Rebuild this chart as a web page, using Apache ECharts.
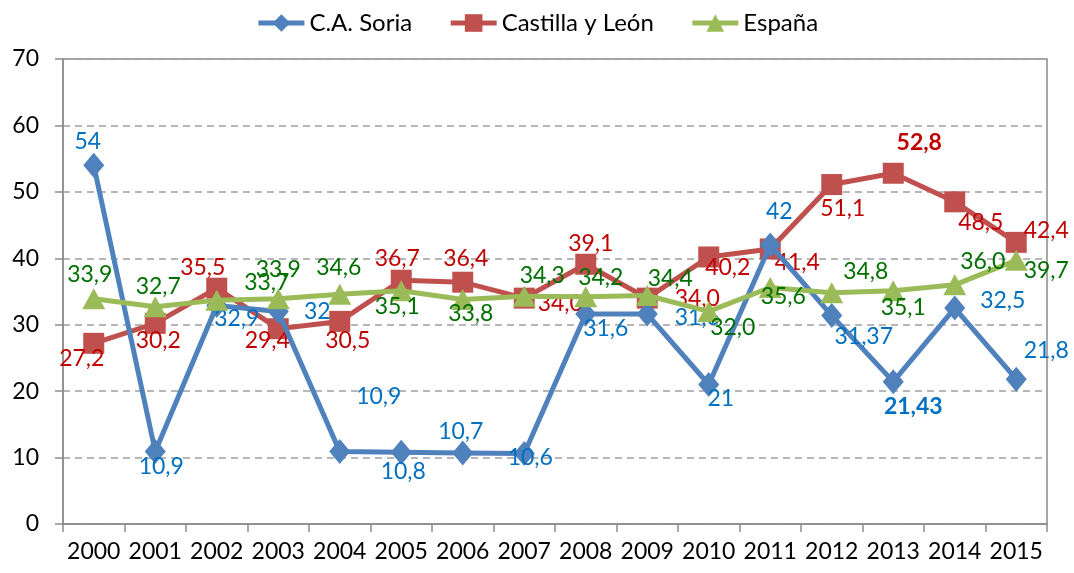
<!DOCTYPE html>
<html lang="es">
<head>
    <meta charset="UTF-8">
    <title>Soria, Castilla y León, España</title>
    <script src="https://cdn.jsdelivr.net/npm/echarts@6/dist/echarts.min.js"></script>
</head>
<body style="margin:0">
<div id="chart" style="width:1074px;height:573px"></div>
<script type="text/javascript">
    var years = ['2000', '2001', '2002', '2003', '2004', '2005', '2006', '2007',
        '2008', '2009', '2010', '2011', '2012', '2013', '2014', '2015'];
    var soria = [54, 10.9, 32.9, 32, 10.9, 10.8, 10.7, 10.6, 31.6, 31.6, 21, 42, 31.37, 21.43, 32.5, 21.8];
    var soriaText = ['54', '10,9', '32,9', '32', '10,9', '10,8', '10,7', '10,6', '31,6', '31,6', '21', '42', '31,37', '21,43', '32,5', '21,8'];
    var cyl = [27.2, 30.2, 35.5, 29.4, 30.5, 36.7, 36.4, 34.0, 39.1, 34.0, 40.2, 41.4, 51.1, 52.8, 48.5, 42.4];
    var espana = [33.9, 32.7, 33.7, 33.9, 34.6, 35.1, 33.8, 34.3, 34.2, 34.4, 32.0, 35.6, 34.8, 35.1, 36.0, 39.7];
    var yTicks = [0, 10, 20, 30, 40, 50, 60, 70];

    // where each data label sits relative to its point (dx, dy in px)
    var soriaOff = [[-6, -24], [6, 15], [20, 13], [39, 0], [39, -55], [2, 19], [-2, -21], [6, 4],
        [20, 14], [50, 3], [12, 14], [9, -33], [32, 21], [20, 25], [48, -8], [30, -29]];
    var cylOff = [[-12, 15], [3, 17], [-14, -21], [-11, 12], [8, 19], [-4, -22], [3, -24], [36, 5],
        [5, -21], [50, 0], [19, 11], [27, 14], [11, 24], [26, -31], [26, 21], [30, -12]];
    var espOff = [[-4, -24], [3, -20], [50, -18], [0, -29], [-1, -27], [-4, 16], [8, 14], [18, -21],
        [15, -19], [23, -17], [24, 16], [13, 9], [34, -21], [10, 17], [28, -23], [30, 10]];
    var soriaBold = 13, cylBold = 13;

    function fmt(v) {
        return v.toFixed(1).replace('.', ',');
    }

    function build(values, offs, texts, boldIdx) {
        return values.map(function (v, i) {
            return {
                value: v,
                label: {
                    offset: offs[i],
                    fontWeight: i === boldIdx ? 'bold' : 'normal',
                    formatter: texts ? texts[i] : fmt(v)
                }
            };
        });
    }

    var font = 'Lato';
    var labelBase = {
        show: true,
        position: 'inside',
        fontFamily: font,
        fontSize: 23,
        align: 'center',
        verticalAlign: 'middle'
    };

    var chart = echarts.init(document.getElementById('chart'));
    chart.setOption({
        animation: false,
        backgroundColor: '#fff',
        legend: {
            top: 6,
            left: 'center',
            itemWidth: 46,
            itemHeight: 22,
            itemGap: 36,
            lineStyle: {width: 5},
            textStyle: {fontFamily: font, fontSize: 24, color: '#000'},
            data: ['C.A. Soria', 'Castilla y León', 'España']
        },
        grid: {
            left: 63, right: 27, top: 59, bottom: 49,
            show: true, borderColor: '#8c8c8c', borderWidth: 1.5
        },
        xAxis: {
            type: 'category',
            data: years,
            boundaryGap: true,
            axisLine: {lineStyle: {color: '#8c8c8c', width: 1.5}},
            axisTick: {show: true, alignWithLabel: false, length: 8, lineStyle: {color: '#8c8c8c', width: 1.5}},
            axisLabel: {fontFamily: font, fontSize: 23, color: '#000', margin: 16, interval: 0}
        },
        yAxis: {
            type: 'value',
            min: yTicks[0],
            max: yTicks[yTicks.length - 1],
            interval: 10,
            axisLine: {show: true, lineStyle: {color: '#8c8c8c', width: 1.5}},
            axisTick: {show: true, length: 8, lineStyle: {color: '#8c8c8c', width: 1.5}},
            axisLabel: {fontFamily: font, fontSize: 23, color: '#000', margin: 24},
            splitLine: {lineStyle: {color: '#a0a0a0', width: 1.5, type: [7, 5]}}
        },
        series: [{
            name: 'C.A. Soria',
            type: 'line',
            z: 3,
            data: build(soria, soriaOff, soriaText, soriaBold),
            symbol: 'diamond',
            symbolSize: [21, 25],
            lineStyle: {color: '#4f81bd', width: 5},
            itemStyle: {color: '#4f81bd'},
            label: Object.assign({color: '#0070c0'}, labelBase)
        }, {
            name: 'Castilla y León',
            type: 'line',
            z: 2,
            data: build(cyl, cylOff, null, cylBold),
            symbol: 'rect',
            symbolSize: 21,
            lineStyle: {color: '#c0504d', width: 5},
            itemStyle: {color: '#c0504d'},
            label: Object.assign({color: '#c00000'}, labelBase)
        }, {
            name: 'España',
            type: 'line',
            z: 4,
            data: build(espana, espOff, null, -1),
            symbol: 'triangle',
            symbolSize: [23, 21],
            lineStyle: {color: '#9bbb59', width: 5},
            itemStyle: {color: '#9bbb59'},
            label: Object.assign({color: '#007000'}, labelBase)
        }]
    });
</script>
</body>
</html>
